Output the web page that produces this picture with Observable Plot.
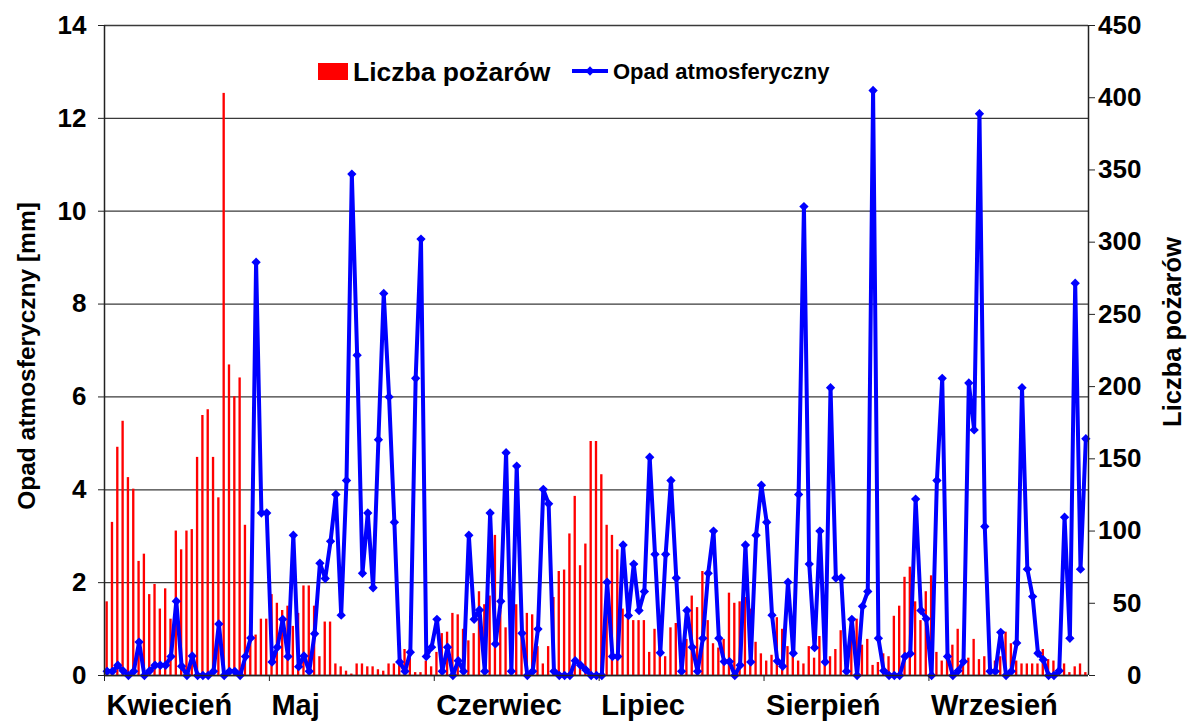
<!DOCTYPE html>
<html><head><meta charset="utf-8">
<script src="https://cdn.jsdelivr.net/npm/d3@7"></script>
<script src="https://cdn.jsdelivr.net/npm/@observablehq/plot@0.6"></script>
<style>
body{margin:0;background:#fff;font-family:"Liberation Sans",Arial,sans-serif;}
#wrap{position:relative;width:1188px;height:724px;overflow:hidden;}
#legend{position:absolute;left:0;top:0;pointer-events:none;}
</style></head><body><div id="wrap"></div>
<script>
const months = ["Kwiecień","Maj","Czerwiec","Lipiec","Sierpień","Wrzesień"];
const monthStart = [0,31,62,93,124,155];
const leftTicks = [0,2,4,6,8,10,12,14];
const rightTicks = [0,50,100,150,200,250,300,350,400,450];
const fires = [
 51,106,158,176,137,129,79,84,56,63,
 46,60,39,100,87,100,101,151,180,184,
 151,123,403,215,193,206,104,25,28,39,
 39,56,50,45,48,34,43,62,62,48,
 13,37,37,8,6,3,1,8,8,6,
 6,4,3,8,8,10,18,12,2,2,
 10,6,16,29,30,43,42,32,24,29,
 58,49,55,97,45,33,30,49,35,43,
 42,20,8,20,54,72,73,98,124,76,
 91,162,162,139,104,97,87,46,39,38,
 38,38,16,32,25,13,33,36,20,25,
 55,47,72,38,22,19,25,57,50,51,
 54,46,23,15,10,14,40,32,20,13,
 10,8,20,12,27,12,13,18,31,20,
 30,39,21,25,7,9,15,13,41,48,
 68,75,51,38,58,69,16,10,13,21,
 32,10,12,25,11,13,10,10,13,30,
 22,10,8,8,8,8,18,11,10,5,
 8,2,6,8,2];
const rain = [
 0.09,0.09,0.22,0.1,0,0.09,0.72,0,0.1,0.22,
 0.22,0.22,0.41,1.6,0.2,0,0.42,0,0,0,
 0.09,1.11,0,0.09,0.09,0,0.41,0.81,8.9,3.5,
 3.5,0.29,0.61,1.21,0.41,3.02,0.19,0.42,0.09,0.9,
 2.42,2.09,2.89,3.9,1.3,4.2,10.8,6.9,2.2,3.5,
 1.89,5.08,8.23,6.0,3.3,0.29,0.09,0.5,6.4,9.4,
 0.41,0.61,1.21,0.09,0.61,0,0.32,0.09,3.02,1.21,
 1.41,0.09,3.5,0.68,1.6,4.8,0.09,4.51,0.91,0,
 0.09,1.0,4.01,3.7,0.09,0,0,0,0.32,0.22,
 0.12,0,0,0,2.01,0.41,0.41,2.81,1.29,2.4,
 1.4,1.81,4.7,2.61,0.49,2.61,4.2,2.1,0.09,1.4,
 0.61,0.09,0.8,2.2,3.11,0.8,0.3,0.3,0,0.22,
 2.81,0.29,3.02,4.1,3.3,1.3,0.31,0.2,2.01,0.48,
 3.9,10.1,2.4,0.6,3.11,0.29,6.2,2.1,2.1,0.09,
 1.21,0,1.49,1.81,12.6,0.8,0.1,0,0,0,
 0.41,0.47,3.8,1.4,1.22,0,4.2,6.4,0.41,0,
 0.1,0.3,6.3,5.29,12.1,3.21,0.09,0.09,0.93,0,
 0.09,0.7,6.2,2.29,1.7,0.48,0.34,0,0,0.1,
 3.41,0.8,8.45,2.29,5.1];

const Y_MAX = 14, F_MAX = 450, k = Y_MAX / F_MAX;
const n = rain.length;
const data = rain.map((r, i) => ({i, rain: r, fires: fires[i]}));
const monthData = months.map((m, j) => ({name: m, pos: monthStart[j] - 0.5}));
const FONT = "Liberation Sans, Arial, Helvetica, sans-serif";

const chart = Plot.plot({
  width: 1188, height: 724,
  marginLeft: 104, marginRight: 100, marginTop: 25, marginBottom: 49,
  x: {domain: [-0.5, n - 0.5], axis: null},
  y: {domain: [0, Y_MAX], axis: null},
  style: {fontFamily: FONT, fontWeight: "bold", background: "white", color: "black"},
  marks: [
    Plot.gridY(leftTicks, {stroke: "#3a3a3a", strokeOpacity: 1, strokeWidth: 1.3}),
    Plot.rectY(data, {x1: d => d.i - 0.22, x2: d => d.i + 0.22, y1: 0, y2: d => d.fires * k, fill: "#ff0000"}),
    Plot.lineY(data, {x: "i", y: "rain", stroke: "#0000ff", strokeWidth: 4, strokeLinejoin: "round"}),
    Plot.dot(data, {x: "i", y: "rain", symbol: "diamond2", r: 4.2, fill: "#0000ff", stroke: "none"}),
    Plot.ruleX([-0.5, n - 0.5], {stroke: "#222", strokeWidth: 1.5}),
    Plot.ruleY([0], {stroke: "#222", strokeWidth: 1.5}),
    Plot.axisY(leftTicks, {anchor: "left", tickSize: 6, tickPadding: 12, fontSize: 26, fontWeight: "bold", label: null, stroke: "#222"}),
    Plot.axisY(rightTicks.map(v => v * k), {anchor: "right", tickSize: 6, tickPadding: 47, textAnchor: "end",
      tickFormat: v => String(Math.round(v / k)), fontSize: 26, fontWeight: "bold", label: null, stroke: "#222"}),
    Plot.axisX(monthData.map(d => d.pos), {anchor: "bottom", tickSize: 6, tickFormat: () => "", label: null, stroke: "#222"}),
    Plot.text(monthData, {x: "pos", text: "name", frameAnchor: "bottom", textAnchor: "start", lineAnchor: "top",
      dx: 2, dy: 19, fontSize: 29, fontWeight: "bold", fill: "black"})
  ]
});
document.getElementById("wrap").appendChild(chart);

// Overlay: axis titles and legend
const lg = d3.select("#wrap").append("svg").attr("id", "legend")
  .attr("width", 1188).attr("height", 724)
  .style("font-family", FONT).style("font-weight", "bold");
lg.append("text").attr("transform", "translate(35,356) rotate(-90)").attr("text-anchor", "middle")
  .attr("font-size", 24.5).text("Opad atmosferyczny [mm]");
lg.append("text").attr("transform", "translate(1181,332) rotate(-90)").attr("text-anchor", "middle")
  .attr("font-size", 25.5).text("Liczba pożarów");
lg.append("rect").attr("x", 318).attr("y", 63).attr("width", 30).attr("height", 17).attr("fill", "#ff0000");
lg.append("text").attr("x", 353).attr("y", 81).attr("font-size", 26.5).text("Liczba pożarów");
lg.append("line").attr("x1", 572).attr("x2", 608).attr("y1", 71).attr("y2", 71)
  .attr("stroke", "#0000ff").attr("stroke-width", 4);
lg.append("path").attr("d", d3.symbol(d3.symbolDiamond2, 55)()).attr("transform", "translate(590,71)").attr("fill", "#0000ff");
lg.append("text").attr("x", 613).attr("y", 79).attr("font-size", 22).text("Opad atmosferyczny");
</script></body></html>
